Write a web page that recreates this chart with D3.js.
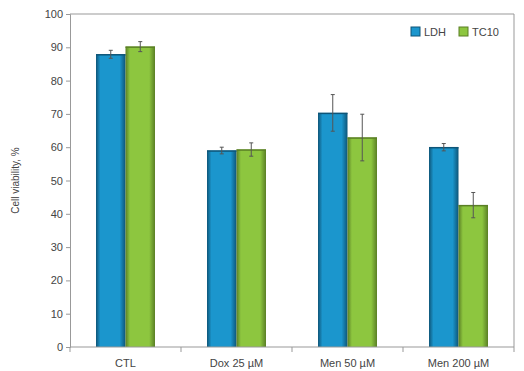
<!DOCTYPE html>
<html><head><meta charset="utf-8">
<script src="https://cdn.jsdelivr.net/npm/d3@7"></script>
<style>body{margin:0;background:#fff}svg{display:block}text{font-family:"Liberation Sans",Arial,sans-serif}</style>
</head><body>
<svg id="c" width="524" height="371"></svg>
<script>
const categories = ["CTL","Dox 25 µM","Men 50 µM","Men 200 µM"];
const seriesNames = ["LDH","TC10"];
const ldh = [87.9, 59.0, 70.3, 60.0];
const ldhErr = [1.2, 1.0, 5.5, 1.1];
const tc10 = [90.2, 59.3, 62.9, 42.6];
const tc10Err = [1.5, 2.0, 7.0, 3.8];
const yTicks = [0,10,20,30,40,50,60,70,80,90,100];

const svg = d3.select("#c");
const m = {l:70, r:10, t:14, b:24};
const W = 524, H = 371;
const x = d3.scaleBand().domain(categories).range([m.l, W-m.r]).paddingInner(0).paddingOuter(0);
const y = d3.scaleLinear().domain([0,100]).range([H-m.b, m.t]);
const xs = d3.scaleBand().domain(seriesNames).range([0, 59]);

const defs = svg.append("defs");
function grad(id, edge, mid){
  const g = defs.append("linearGradient").attr("id", id).attr("x1","0").attr("x2","1").attr("y1","0").attr("y2","0");
  g.append("stop").attr("offset","0").attr("stop-color", edge);
  g.append("stop").attr("offset","0.15").attr("stop-color", mid);
  g.append("stop").attr("offset","0.8").attr("stop-color", mid);
  g.append("stop").attr("offset","1").attr("stop-color", edge);
}
grad("gB", "#0e5578", "#1b96cd");
grad("gG", "#5a7f25", "#8dc63f");

// frame
svg.append("path").attr("d", `M${m.l},${m.t}H${W-m.r}V${H-m.b}`).attr("fill","none").attr("stroke","#999").attr("stroke-width",1);

const data = categories.map((c,i)=>[
  {c, s:"LDH", v:ldh[i], e:ldhErr[i], f:"url(#gB)", top:"#0e5578"},
  {c, s:"TC10", v:tc10[i], e:tc10Err[i], f:"url(#gG)", top:"#5a7f25"}
]).flat();

const off = (x.bandwidth()-59)/2;
const g = svg.append("g");
g.selectAll("rect.bar").data(data).join("rect").attr("class","bar")
  .attr("x", d=>x(d.c)+off+xs(d.s)).attr("width", xs.bandwidth())
  .attr("y", d=>y(d.v)).attr("height", d=>y(0)-y(d.v)).attr("fill", d=>d.f);
g.selectAll("line.top").data(data).join("line").attr("class","top")
  .attr("x1", d=>x(d.c)+off+xs(d.s)).attr("x2", d=>x(d.c)+off+xs(d.s)+xs.bandwidth())
  .attr("y1", d=>y(d.v)+0.5).attr("y2", d=>y(d.v)+0.5).attr("stroke", d=>d.top).attr("stroke-width",1.5);
// error bars
const eb = g.selectAll("g.eb").data(data).join("g").attr("class","eb")
  .attr("transform", d=>`translate(${x(d.c)+off+xs(d.s)+xs.bandwidth()/2},0)`);
eb.append("line").attr("y1", d=>y(d.v+d.e)).attr("y2", d=>y(d.v-d.e)).attr("stroke","#555").attr("stroke-width",1);
eb.append("line").attr("x1",-2).attr("x2",2).attr("y1", d=>y(d.v+d.e)).attr("y2", d=>y(d.v+d.e)).attr("stroke","#555");
eb.append("line").attr("x1",-2).attr("x2",2).attr("y1", d=>y(d.v-d.e)).attr("y2", d=>y(d.v-d.e)).attr("stroke","#555");

// y axis
const ya = svg.append("g").attr("transform",`translate(${m.l},0)`)
  .call(d3.axisLeft(y).tickValues(yTicks).tickSize(4).tickPadding(3));
ya.select(".domain").attr("stroke","#999");
ya.selectAll(".tick line").attr("stroke","#999");
ya.selectAll("text").attr("font-size",11).attr("fill","#444");

// x axis
const xa = svg.append("g").attr("transform",`translate(0,${H-m.b})`);
xa.append("line").attr("x1",m.l).attr("x2",W-m.r).attr("stroke","#999");
const bounds = categories.map(c=>x(c)).concat([x(categories[categories.length-1])+x.bandwidth()]);
xa.selectAll("line.t").data(bounds).join("line").attr("class","t")
  .attr("x1",d=>d).attr("x2",d=>d).attr("y1",0).attr("y2",5).attr("stroke","#999");
xa.selectAll("text").data(categories).join("text")
  .attr("x", d=>x(d)+x.bandwidth()/2).attr("y", 20).attr("text-anchor","middle")
  .attr("font-size",11).attr("fill","#444").text(d=>d);

// y label
svg.append("text").attr("transform",`translate(19,${(m.t+H-m.b)/2}) rotate(-90)`)
  .attr("text-anchor","middle").attr("font-size",10).attr("fill","#444").text("Cell viability, %");

// legend
const leg = [{n:"LDH", f:"#1b96cd", s:"#0e5578", x:411},{n:"TC10", f:"#8dc63f", s:"#5a7f25", x:459}];
const lg = svg.selectAll("g.leg").data(leg).join("g").attr("class","leg").attr("transform",d=>`translate(${d.x},27)`);
lg.append("rect").attr("width",9).attr("height",9).attr("fill",d=>d.f).attr("stroke",d=>d.s).attr("stroke-width",1);
lg.append("text").attr("x",13).attr("y",8.5).attr("font-size",11).attr("fill","#444").text(d=>d.n);
</script>
</body></html>
